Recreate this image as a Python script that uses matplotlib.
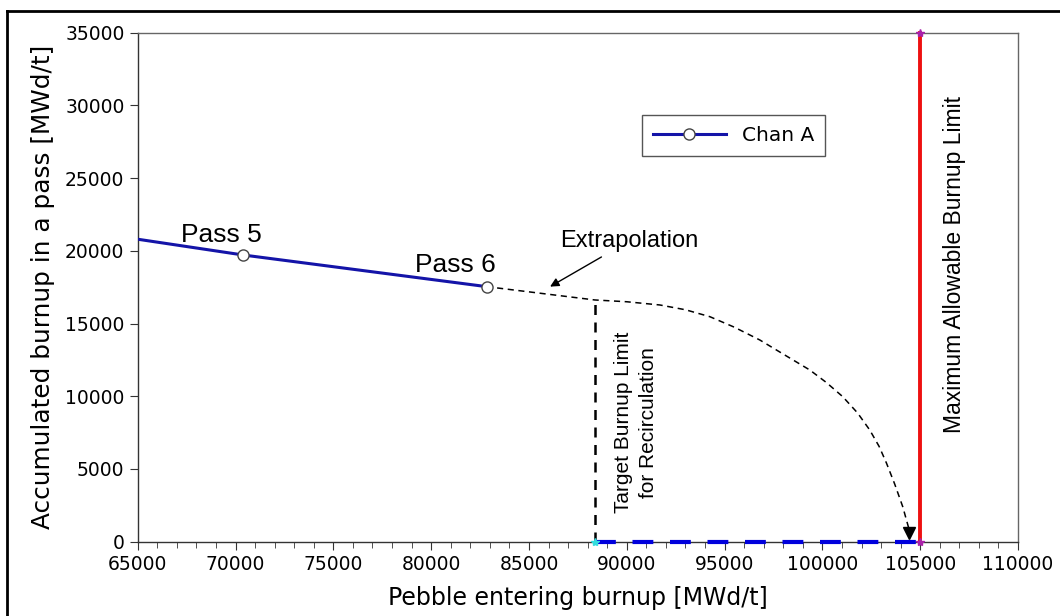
"""Burnup per pass vs pebble entering burnup, with extrapolation to the limit."""

import matplotlib
matplotlib.use("Agg")
import matplotlib.pyplot as plt
from matplotlib.lines import Line2D
from matplotlib.ticker import MultipleLocator

# channel A passes (first point is where the line enters the axes)
chan_x = [65000, 70365, 82830]
chan_y = [20800, 19720, 17540]
pass_labels = ["Pass 5", "Pass 6"]

# hand-drawn extrapolation curve
extrap_x = [82830, 88367, 90000, 91689, 93000, 94244, 95500, 96799, 98000, 99354,
            100200, 101040, 101800, 102420, 102900, 103273, 103700, 104107, 104420]
extrap_y = [17540, 16623, 16500, 16279, 15950, 15475, 14750, 13872, 12900, 11809,
            10950, 9973, 8850, 7682, 6550, 5413, 3950, 2407, 900]

target_limit = 88400
max_limit = 105000
target_top = 16620
max_top = 35000

fig = plt.figure(figsize=(10.6, 6.16), dpi=100)
ax = fig.add_axes([0.1299, 0.1206, 0.8305, 0.8263])

ax.plot(chan_x, chan_y, color="#1414a8", lw=2.2, zorder=4)
ax.plot(chan_x[1:], chan_y[1:], ls="none", marker="o", ms=8, mfc="white",
        mec="#444444", mew=1.0, zorder=5)

ax.plot(extrap_x, extrap_y, color="black", lw=1.1, ls=(0, (4, 3)), zorder=3)
ax.plot(104420, 600, marker="v", color="black", ms=8, zorder=6)

ax.plot([target_limit, target_limit], [0, target_top], color="black", lw=1.8,
        ls=(0, (4, 3)), zorder=3)
ax.plot([target_limit, max_limit], [0, 0], color="#0000dd", lw=3,
        ls=(0, (5, 4)), zorder=4, clip_on=False)
ax.plot([max_limit, max_limit], [0, max_top], color="#ee1111", lw=2.8, zorder=4,
        clip_on=False)
ax.plot([target_limit], [0], marker="*", color="#33dddd", ms=6, ls="none",
        zorder=6, clip_on=False)
ax.plot([max_limit, max_limit], [0, max_top], marker="*", color="#aa22aa", ms=6,
        ls="none", zorder=6, clip_on=False)

sans = ["Liberation Sans", "DejaVu Sans"]
narrow = ["Liberation Sans Narrow", "Liberation Sans", "DejaVu Sans"]
ax.text(69300, 21100, pass_labels[0], fontsize=19, family=sans, ha="center", va="center")
ax.text(81250, 19000, pass_labels[1], fontsize=19, family=sans, ha="center", va="center")
ax.annotate("Extrapolation", xy=(86080, 17540), xytext=(90110, 20670),
            fontsize=17, family=sans, ha="center", va="center",
            arrowprops=dict(arrowstyle="-|>", color="black", lw=1.0,
                            shrinkA=3, shrinkB=0, mutation_scale=13))
ax.text(90470, 8200, "Target Burnup Limit\nfor Recirculation", rotation=90,
        fontsize=15, family=narrow, ha="center", va="center", linespacing=1.45)
ax.text(106760, 19030, "Maximum Allowable Burnup Limit", rotation=90,
        fontsize=16.5, family=narrow, ha="center", va="center")

ax.set_xlim(65000, 110000)
ax.set_ylim(0, 35000)
ax.xaxis.set_major_locator(MultipleLocator(5000))
ax.xaxis.set_minor_locator(MultipleLocator(1000))
ax.yaxis.set_major_locator(MultipleLocator(5000))
ax.tick_params(axis="both", which="major", labelsize=13.5, length=6, color="#333333",
               direction="out")
ax.tick_params(axis="x", which="minor", length=4, color="#333333")
for s in ax.spines.values():
    s.set_color("#666666")
    s.set_linewidth(1.0)
ax.spines["left"].set_color("#333333")
ax.spines["bottom"].set_color("#333333")

ax.set_xlabel("Pebble entering burnup [MWd/t]", fontsize=17, labelpad=9)
ax.set_ylabel("Accumulated burnup in a pass [MWd/t]", fontsize=17.8, labelpad=7)

handle = Line2D([], [], color="#1414a8", lw=2.2, marker="o", ms=8, mfc="white",
                mec="#444444")
leg = ax.legend([handle], ["Chan A"], loc="upper left",
                bbox_to_anchor=(0.5729, 0.838), borderaxespad=0, fontsize=14.5,
                fancybox=False, framealpha=1, edgecolor="#555555",
                handlelength=3.6, borderpad=0.55, handletextpad=0.8)

# outer frame (only top and left edges are visible in the source)
fig.add_artist(Line2D([7 / 1060, 7 / 1060], [0, 1 - 11 / 616], color="black", lw=2))
fig.add_artist(Line2D([7 / 1060, 1], [1 - 11 / 616, 1 - 11 / 616], color="black", lw=2))

fig.savefig("out.png", dpi=100)
